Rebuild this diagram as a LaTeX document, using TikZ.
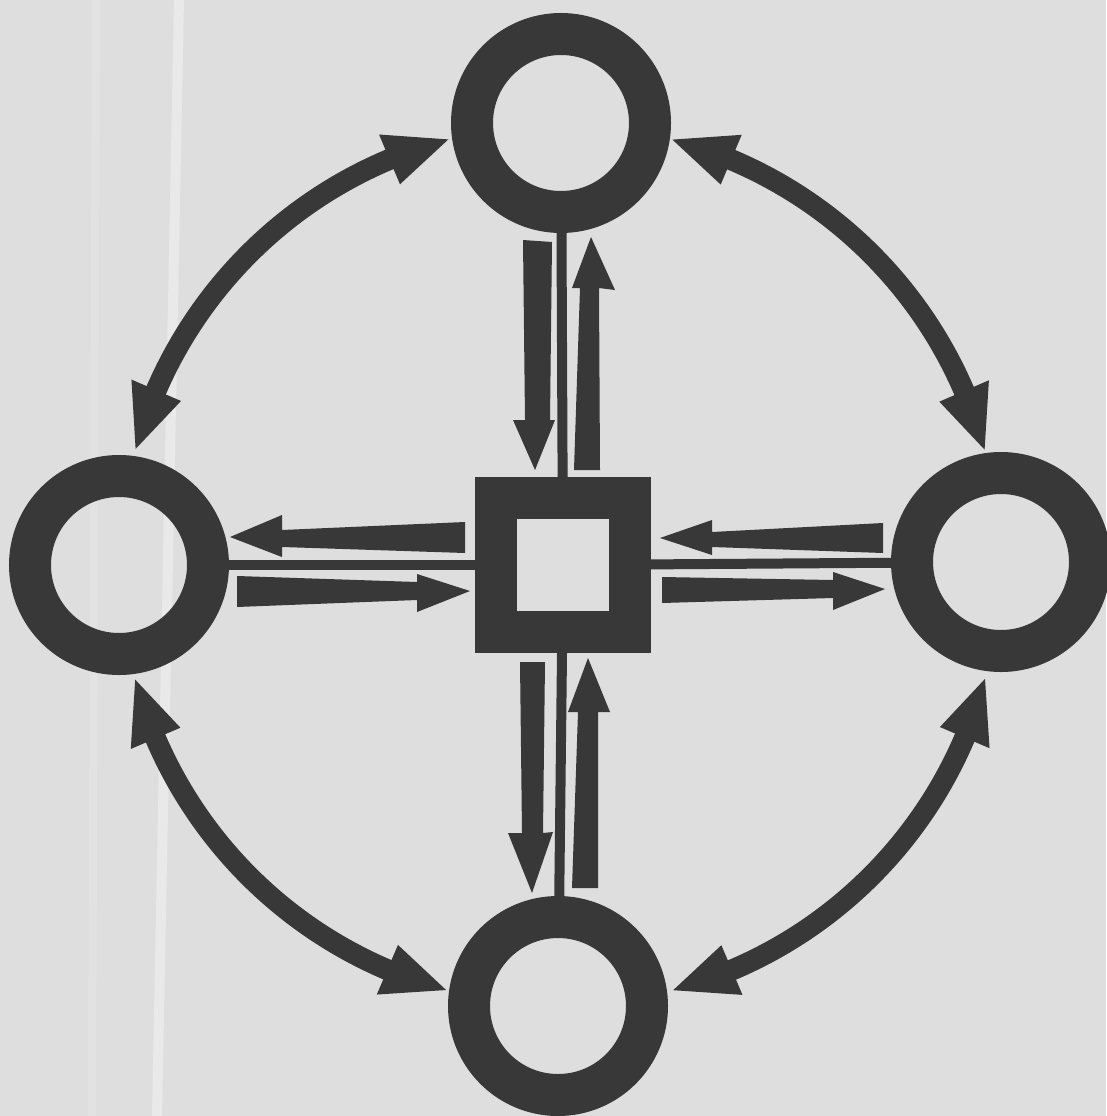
\documentclass[tikz,border=0pt]{standalone}
\usetikzlibrary{calc}
\definecolor{ink}{RGB}{56,56,56}
\definecolor{paper}{RGB}{222,222,222}
\newcommand\swinghead[2]{\fill[ink] ($(O)+(#1:440pt)$) -- ($(O)+(#2:467pt)$) -- ($(O)+(#2:413pt)$) -- cycle;}
\newcommand\swingarrow[2]{%
  \draw[swing] ($(O)+(#1+7:440pt)$) arc[start angle=#1+7,end angle=#2-7,radius=440pt];
  \swinghead{#1}{#1+8.1}\swinghead{#2}{#2-8.1}}
\begin{document}
\begin{tikzpicture}[x=1pt,y=-1pt,
  ring/.style={circle,draw=ink,line width=42pt,minimum size=178pt,inner sep=0pt,outer sep=0pt},
  hub/.style={rectangle,draw=ink,line width=42pt,minimum size=134pt,inner sep=0pt,outer sep=0pt},
  link/.style={draw=ink,line width=10pt},
  swing/.style={draw=ink,line width=21pt},
  flat/.style={fill=ink}]
\fill[paper] (0,0) rectangle (1106,1116);
\useasboundingbox (0,0) rectangle (1106,1116);
\fill[white,opacity=0.35] (174,0) -- (184,0) -- (162,1116) -- (152,1116) -- cycle;
\fill[white,opacity=0.15] (92,0) -- (100,0) -- (96,1116) -- (88,1116) -- cycle;

\node[ring] (top) at (561,123) {};
\node[ring] (left) at (119,565) {};
\node[ring] (right) at (1001,562) {};
\node[ring] (bot) at (558,1006) {};
\node[hub] (sq) at (563,565) {};

\draw[link] (top) -- (sq);
\draw[link] (sq) -- (bot);
\draw[link] (left) -- (sq);
\draw[link] (sq) -- (right);

\coordinate (O) at (560,565);
\swingarrow{104.7}{164.7}
\swingarrow{15.2}{75.2}
\swingarrow{-75.1}{-15}
\swingarrow{195.1}{255}

% top pair
\fill[flat] (523,240) -- (552,242) -- (550,420) -- (555,420) -- (535,470) -- (513,420) -- (525,420) -- cycle;
\fill[flat] (574,470) -- (600,470) -- (599,288) -- (615,290) -- (591,237) -- (572,288) -- (580,288) -- cycle;
% bottom pair
\fill[flat] (520,662) -- (545,662) -- (543,833) -- (553,832) -- (532,893) -- (508,833) -- (522,833) -- cycle;
\fill[flat] (572,888) -- (598,888) -- (598,712) -- (610,712) -- (588,658) -- (568,712) -- (578,712) -- cycle;
% left pair
\fill[flat] (465,522) -- (465,553) -- (282,547) -- (282,557) -- (230,537) -- (282,515) -- (282,530) -- cycle;
\fill[flat] (237,576) -- (237,607) -- (417,600) -- (417,612) -- (470,591) -- (417,574) -- (417,582) -- cycle;
% right pair
\fill[flat] (883,523) -- (883,553) -- (712,547) -- (712,555) -- (660,538) -- (712,520) -- (712,532) -- cycle;
\fill[flat] (662,577) -- (662,603) -- (833,598) -- (833,610) -- (885,589) -- (833,572) -- (833,580) -- cycle;
\end{tikzpicture}
\end{document}
